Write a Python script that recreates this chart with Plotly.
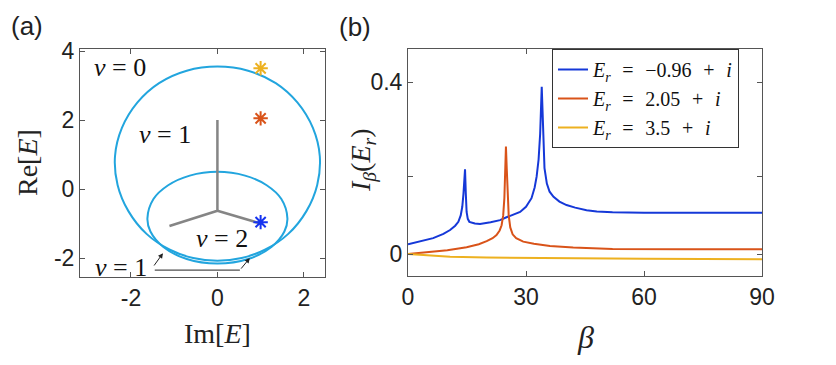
import plotly.graph_objects as go

# ---------------- panel (a) data: spectra in the complex plane ----------------
big_im = [0, 0.71, 1.35, 1.85, 2.21, 2.37, 2.31, 2.06, 1.64, 1.10, 0.56, 0,
          -0.56, -1.10, -1.64, -2.06, -2.31, -2.37, -2.21, -1.85, -1.35, -0.71, 0]
big_re = [3.55, 3.43, 3.07, 2.51, 1.77, 0.95, 0.12, -0.64, -1.30, -1.76, -2.00, -2.08,
          -2.00, -1.76, -1.30, -0.64, 0.12, 0.95, 1.77, 2.51, 3.07, 3.43, 3.55]
small_im = [0, 0.64, 1.14, 1.48, 1.62, 1.55, 1.25, 0.71, 0,
            -0.71, -1.25, -1.55, -1.62, -1.48, -1.14, -0.64, 0]
small_re = [0.50, 0.39, 0.11, -0.29, -0.85, -1.23, -1.68, -2.03, -2.16,
            -2.03, -1.68, -1.23, -0.85, -0.29, 0.11, 0.39, 0.50]
skel_im = [0, 0, -1.11, None, 0, 1.0]
skel_re = [2.0, -0.63, -1.07, None, -0.63, -1.0]
star_im = [1, 1, 1]
star_re = [3.5, 2.05, -0.96]
star_colors = ["#EDB120", "#D95319", "#1533F0"]

a_xticks = [-2, 0, 2]
a_xticktext = ["-2", "0", "2"]
a_yticks = [-2, 0, 2, 4]
a_yticktext = ["-2", "0", "2", "4"]

# ---------------- panel (b) data ----------------
beta_blue = [0, 3, 6.4, 9, 10.7, 12, 12.8, 13.4, 13.8, 14.1, 14.3, 14.5, 14.7, 14.9, 15.2,
             15.6, 17, 18.3, 21, 23.4, 24.9, 26.5, 28.5, 30, 31.4, 32.2, 32.7, 33.2, 33.6,
             34.0, 34.4, 34.7, 35.3, 36, 37, 38.5, 40.3, 42.5, 45.4, 48, 52, 60, 75, 90]
I_blue = [0.023, 0.029, 0.037, 0.047, 0.056, 0.066, 0.075, 0.09, 0.11, 0.14, 0.165, 0.197,
          0.14, 0.098, 0.082, 0.075, 0.071, 0.070, 0.074, 0.079, 0.085, 0.090, 0.098, 0.11,
          0.13, 0.155, 0.18, 0.22, 0.28, 0.389, 0.25, 0.20, 0.164, 0.145, 0.133, 0.122,
          0.114, 0.108, 0.102, 0.099, 0.097, 0.096, 0.096, 0.096]
beta_orange = [0, 6.4, 10, 14.9, 18, 20, 21.5, 22.5, 23.3, 23.8, 24.2, 24.5, 24.7, 24.9,
               25.1, 25.3, 25.6, 26, 26.6, 27.5, 29.3, 32, 36.1, 42, 52, 70, 90]
I_orange = [0.0, 0.005, 0.009, 0.016, 0.023, 0.030, 0.037, 0.044, 0.055, 0.067, 0.09, 0.13,
            0.188, 0.25, 0.20, 0.14, 0.09, 0.062, 0.046, 0.037, 0.029, 0.024, 0.019, 0.015,
            0.012, 0.011, 0.011]
beta_yellow = [0, 5, 10.7, 20, 30, 43.7, 60, 90]
I_yellow = [0, -0.003, -0.006, -0.008, -0.009, -0.010, -0.011, -0.012]

SP = "\u2002\u200a"
legend_names = [f"<i>E</i><sub><i>r</i></sub>{SP}={SP}\u22120.96{SP}+{SP}<i>i</i>",
                f"<i>E</i><sub><i>r</i></sub>{SP}={SP}2.05{SP}+{SP}<i>i</i>",
                f"<i>E</i><sub><i>r</i></sub>{SP}={SP}3.5{SP}+{SP}<i>i</i>"]
line_colors = ["#1538D8", "#D95319", "#EDB120"]

b_xticks = [0, 30, 60, 90]
b_yticks = [0, 0.18, 0.4]
b_yticktext = ["0", "", "0.4"]

# the page body has an 8px margin; the figure is sized and positioned to compensate
OFF = 8
W, H = 820, 349
def px(x):
    return (x - OFF) / W
def py(y):
    return 1 - (y - OFF) / H

fig = go.Figure()
curve_col = "#22A5DE"
fig.add_trace(go.Scatter(x=big_im, y=big_re, mode="lines", line=dict(color=curve_col, width=2, shape="spline"),
                         xaxis="x", yaxis="y", showlegend=False))
fig.add_trace(go.Scatter(x=small_im, y=small_re, mode="lines", line=dict(color=curve_col, width=2, shape="spline"),
                         xaxis="x", yaxis="y", showlegend=False))
fig.add_trace(go.Scatter(x=skel_im, y=skel_re, mode="lines", line=dict(color="#858585", width=2.5),
                         xaxis="x", yaxis="y", showlegend=False))
fig.add_trace(go.Scatter(x=star_im, y=star_re, mode="markers",
                         marker=dict(symbol="asterisk-open", size=12, color=star_colors,
                                     line=dict(width=2, color=star_colors)),
                         xaxis="x", yaxis="y", showlegend=False))

for bx, by, nm, c in [(beta_blue, I_blue, legend_names[0], line_colors[0]),
                      (beta_orange, I_orange, legend_names[1], line_colors[1]),
                      (beta_yellow, I_yellow, legend_names[2], line_colors[2])]:
    fig.add_trace(go.Scatter(x=bx, y=by, mode="lines", name=nm, line=dict(color=c, width=2),
                             xaxis="x2", yaxis="y2"))

axcol = "#555555"
tickfont = dict(family="Liberation Sans, Arial", size=23, color="#222")
common = dict(showline=True, linecolor=axcol, linewidth=1, mirror="ticks", ticks="inside",
              ticklen=5, tickcolor=axcol, showgrid=False, zeroline=False, tickfont=tickfont,
              automargin=False)

fig.update_layout(
    width=W, height=H, margin=dict(l=0, r=0, t=0, b=0),
    paper_bgcolor="white", plot_bgcolor="white",
    xaxis=dict(domain=[px(80), px(325)], range=[-3.18, 2.49], tickvals=a_xticks,
               ticktext=a_xticktext, anchor="y", **common),
    yaxis=dict(domain=[py(277), py(49)], range=[-2.55, 4.06], tickvals=a_yticks,
               ticktext=a_yticktext, anchor="x", **common),
    xaxis2=dict(domain=[px(408), px(762)], range=[0, 90], tickvals=b_xticks, anchor="y2", **common),
    yaxis2=dict(domain=[py(276), py(49)], range=[-0.051, 0.477], tickvals=b_yticks,
                ticktext=b_yticktext, anchor="x2", **common),
    legend=dict(x=px(552), y=py(49), xanchor="left", yanchor="top", bgcolor="white",
                bordercolor="#333", borderwidth=1, tracegroupgap=0, itemwidth=30,
                font=dict(family="Liberation Serif, Times New Roman", size=20, color="#111")),
)

serif = "Liberation Serif, Times New Roman"
anns = [
    dict(text="(a)", x=px(27), y=py(26), font=dict(family="Liberation Sans, Arial", size=26, color="#222")),
    dict(text="(b)", x=px(355), y=py(27), font=dict(family="Liberation Sans, Arial", size=26, color="#222")),
    dict(text="Re[<i>E</i>]", x=px(27), y=py(163), textangle=-90, font=dict(family=serif, size=28, color="#222")),
    dict(text="Im[<i>E</i>]", x=px(217), y=py(333), font=dict(family=serif, size=28, color="#222")),
    dict(text="<i>I</i><sub><i>\u03b2</i></sub>(<i>E</i><sub><i>r</i></sub>)", x=px(362), y=py(160),
         textangle=-90, font=dict(family=serif, size=28, color="#222")),
    dict(text="<i>\u03b2</i>", x=px(585), y=py(337), font=dict(family=serif, size=32, color="#222")),
    dict(text="<i>\u03bd</i>\u00a0=\u00a00", x=px(120), y=py(68), font=dict(family=serif, size=26, color="#111")),
    dict(text="<i>\u03bd</i>\u00a0=\u00a01", x=px(165), y=py(135), font=dict(family=serif, size=26, color="#111")),
    dict(text="<i>\u03bd</i>\u00a0=\u00a02", x=px(222), y=py(238), font=dict(family=serif, size=26, color="#111")),
    dict(text="<i>\u03bd</i>\u00a0=\u00a01", x=px(121), y=py(267), font=dict(family=serif, size=26, color="#111")),
]
for a in anns:
    a.update(xref="paper", yref="paper", showarrow=False, xanchor="center", yanchor="middle")
    fig.add_annotation(**a)

# arrows in panel (a)
fig.add_annotation(x=-1.26, y=-1.86, ax=-1.49, ay=-2.26, xref="x", yref="y", axref="x", ayref="y",
                   text="", showarrow=True, arrowhead=2, arrowsize=1, arrowwidth=1, arrowcolor="#222")
fig.add_annotation(x=0.75, y=-2.0, ax=0.52, ay=-2.35, xref="x", yref="y", axref="x", ayref="y",
                   text="", showarrow=True, arrowhead=2, arrowsize=1, arrowwidth=1, arrowcolor="#222")
fig.add_shape(type="line", x0=-1.45, y0=-2.35, x1=0.52, y1=-2.35, xref="x", yref="y",
              line=dict(color="#222", width=1))

fig.write_html("out.html")
